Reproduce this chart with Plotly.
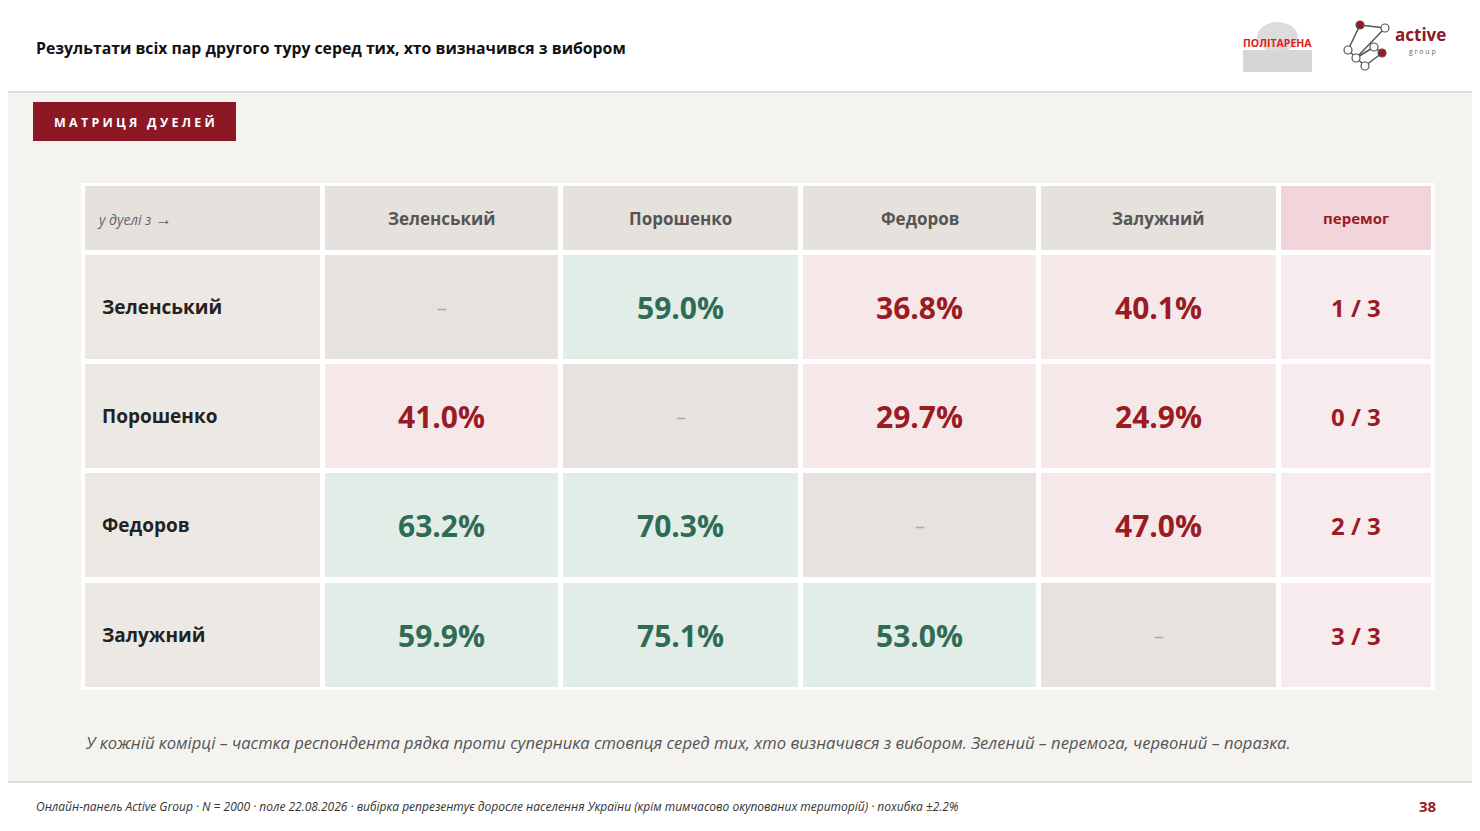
import plotly.graph_objects as go

# Duel matrix: row candidate's share against column candidate
candidates = ["Зеленський", "Порошенко", "Федоров", "Залужний"]
shares = [
    [None, 59.0, 36.8, 40.1],
    [41.0, None, 29.7, 24.9],
    [63.2, 70.3, None, 47.0],
    [59.9, 75.1, 53.0, None],
]
wins = ["1 / 3", "0 / 3", "2 / 3", "3 / 3"]

GREEN_BG, RED_BG, DIAG_BG = "#e3ede7", "#f6e8e8", "#e6e3df"
GREEN_TX, RED_TX = "#2f6b55", "#9a1b24"
FONT = "Open Sans"

# column and row geometry (pixel space)
col_x = [85, 325, 563, 803, 1041, 1281]
col_w = [235, 233, 235, 233, 235, 150]
head_y, head_h = 186, 64
row_y = [255, 364, 473, 583]
row_h = 104

shapes, ann = [], []


def rect(x0, y0, x1, y1, color, line=None):
    shapes.append(dict(type="rect", xref="x", yref="y", x0=x0, y0=y0, x1=x1, y1=y1,
                       fillcolor=color, line=dict(width=0) if line is None else line, layer="below"))


def text(x, y, s, size, color, bold=False, italic=False, xanchor="center", family=FONT):
    if bold:
        s = f"<b>{s}</b>"
    if italic:
        s = f"<i>{s}</i>"
    ann.append(dict(x=x, y=y, xref="x", yref="y", text=s, showarrow=False, xanchor=xanchor,
                    yanchor="middle", font=dict(size=size, color=color, family=family)))


# page areas
rect(0, 0, 1480, 91, "white")
rect(0, 91, 1480, 93, "#dedcd8")
rect(0, 781, 1480, 783, "#dedcd8")
rect(0, 783, 1480, 831, "white")
text(34, 48, "Результати всіх пар другого туру серед тих, хто визначився з вибором", 15.8, "#111", bold=True, xanchor="left")

# badge
rect(33, 102, 236, 141, "#8b1824")
text(134, 122, "М А Т Р И Ц Я   Д У Е Л Е Й", 12.5, "white", bold=True)

# table frame
rect(81, 183, 1435, 690, "white")

# header row
rect(col_x[0], head_y, col_x[0] + col_w[0], head_y + head_h, "#e5e1dc")
text(col_x[0] + 10, head_y + head_h / 2, "у дуелі з <span style='font-size:17px'>→</span>", 14, "#666", italic=True, xanchor="left")
for j, name in enumerate(candidates):
    c = j + 1
    rect(col_x[c], head_y, col_x[c] + col_w[c], head_y + head_h, "#e5e1dc")
    text(col_x[c] + col_w[c] / 2, head_y + head_h / 2, name, 17, "#555", bold=True)
rect(col_x[5], head_y, col_x[5] + col_w[5], head_y + head_h, "#f2d5da")
text(col_x[5] + col_w[5] / 2, head_y + head_h / 2, "перемог", 15, RED_TX, bold=True)

# body
for i, name in enumerate(candidates):
    y0 = row_y[i]
    ym = y0 + row_h / 2
    rect(col_x[0], y0, col_x[0] + col_w[0], y0 + row_h, "#ece9e4")
    text(col_x[0] + 15, ym, name, 19, "#222", bold=True, xanchor="left")
    for j, v in enumerate(shares[i]):
        c = j + 1
        xm = col_x[c] + col_w[c] / 2
        if v is None:
            rect(col_x[c], y0, col_x[c] + col_w[c], y0 + row_h, DIAG_BG)
            text(xm, ym, "–", 20, "#aaa")
        else:
            win = v > 50
            rect(col_x[c], y0, col_x[c] + col_w[c], y0 + row_h, GREEN_BG if win else RED_BG)
            text(xm, ym, f"{v:.1f}%", 30, GREEN_TX if win else RED_TX, bold=True)
    rect(col_x[5], y0, col_x[5] + col_w[5], y0 + row_h, "#f8ebed")
    text(col_x[5] + col_w[5] / 2, ym, wins[i], 24, RED_TX, bold=True)

text(83, 742, "У кожній комірці – частка респондента рядка проти суперника стовпця серед тих, хто визначився з вибором. "
     "Зелений – перемога, червоний – поразка.", 16.6, "#555", italic=True, xanchor="left")
text(34, 806, "Онлайн-панель Active Group · N = 2000 · поле 22.08.2026 · вибірка репрезентує доросле населення України "
     "(крім тимчасово окупованих територій) · похибка ±2.2%", 12, "#333", italic=True, xanchor="left")
text(1428, 806, "38", 15, RED_TX, bold=True)

# logos (approximated)
rect(1243, 50, 1312, 72, "#d6d6d6")
shapes.append(dict(type="circle", xref="x", yref="y", x0=1257, y0=22, x1=1298, y1=52,
                   fillcolor="#dcdcdc", line=dict(width=0), layer="below"))
text(1277, 43, "ПОЛІТАРЕНА", 10.5, "#e02020", bold=True)
nodes = [(1360, 25), (1385, 28), (1356, 58), (1374, 47), (1382, 53), (1365, 66), (1348, 50)]
for (x0, y0), (x1, y1) in zip(nodes, nodes[1:] + nodes[:1]):
    shapes.append(dict(type="line", xref="x", yref="y", x0=x0, y0=y0, x1=x1, y1=y1,
                       line=dict(color="#555", width=1.5)))
for k, (x, y) in enumerate(nodes):
    r = 4
    shapes.append(dict(type="circle", xref="x", yref="y", x0=x - r, y0=y - r, x1=x + r, y1=y + r,
                       fillcolor="#9a1b24" if k in (0, 4) else "white", line=dict(color="#555", width=1.2)))
text(1420, 34, "active", 17, "#8b1824", bold=True)
text(1422, 51, "g r o u p", 7, "#666")

# the page body has an 8px margin, so shift the visible range to keep pixel positions
fig = go.Figure()
fig.update_layout(
    width=1464, height=815, margin=dict(l=0, r=0, t=0, b=0),
    paper_bgcolor="#f4f3ef", plot_bgcolor="#f4f3ef",
    xaxis=dict(range=[8, 1472], visible=False, fixedrange=True),
    yaxis=dict(range=[823, 8], visible=False, fixedrange=True),
    shapes=shapes, annotations=ann, showlegend=False,
)
fig.write_html("out.html")
